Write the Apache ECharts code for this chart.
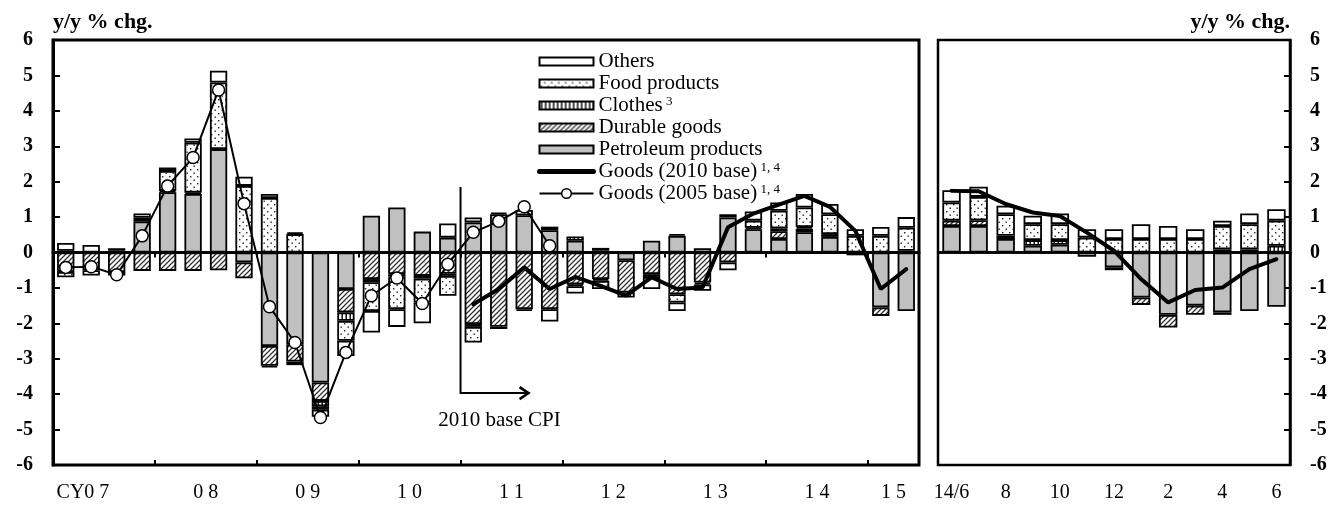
<!DOCTYPE html>
<html><head><meta charset="utf-8">
<script src="https://cdn.jsdelivr.net/npm/echarts@6/dist/echarts.min.js"></script>
<style>html,body{margin:0;padding:0;background:#fff}#c{width:1339px;height:508px}</style>
</head><body><div id="c"></div>
<script>
// ---------- data ----------
const quarters = ['07Q1','07Q2','07Q3','07Q4','08Q1','08Q2','08Q3','08Q4','09Q1','09Q2','09Q3','09Q4',
  '10Q1','10Q2','10Q3','10Q4','11Q1','11Q2','11Q3','11Q4','12Q1','12Q2','12Q3','12Q4',
  '13Q1','13Q2','13Q3','13Q4','14Q1','14Q2','14Q3','14Q4','15Q1','15Q2'];
const yearLabels = ['CY0 7','0 8','0 9','1 0','1 1','1 2','1 3','1 4','1 5'];
const quartersPerYear = [4,4,4,4,4,4,4,4,2];
const months = ['14/6','7','8','9','10','11','12','15/1','2','3','4','5','6'];

const qPetroleum = ['-','-','-',0.88,1.70,1.65,2.92,-0.28,-2.64,-2.59,-3.67,-1.03,1.04,1.27,0.59,0.42,
  0.85,1.08,1.05,0.63,0.33,0.05,-0.22,0.33,0.47,0.12,0.99,0.66,0.38,0.57,0.44,-0.08,-1.55,-1.65];
const qDurable = [-0.55,-0.50,-0.55,-0.52,-0.52,-0.52,-0.50,-0.45,-0.56,-0.49,-0.52,-0.66,-0.75,-0.61,-0.66,-0.60,
  -2.02,-2.10,-1.60,-1.60,-0.90,-0.75,-0.91,-0.61,-1.18,-0.85,-0.28,'-',0.22,0.10,'-','-',-0.24,'-'];
const qClothes = [0.05,'-',0.05,'-',0.04,0.04,'-','-',-0.05,-0.10,-0.15,-0.24,-0.09,-0.07,-0.08,-0.06,
  -0.08,-0.06,-0.05,0.10,0.12,-0.05,-0.14,-0.08,0.05,-0.05,0.09,0.04,0.08,0.05,0.08,'-','-',0.05];
const qFood = [-0.15,-0.15,-0.10,0.10,0.56,1.41,1.88,1.88,1.54,0.52,-0.10,-0.56,-0.81,-0.92,-0.67,-0.56,
  -0.44,'-','-','-',-0.05,-0.23,'-','-',-0.23,'-','-',0.20,0.50,0.55,0.56,0.47,0.47,0.65];
const qOthers = [0.22,0.21,0.07,0.12,0.10,0.12,0.33,0.26,0.11,0.05,-0.20,-0.43,-0.61,-0.50,-0.59,0.40,
  0.14,0.05,0.15,-0.35,-0.21,0.08,'-',-0.34,-0.24,-0.18,-0.22,0.26,0.23,0.38,0.29,0.19,0.25,0.30];
const qGoods2010 = ['-','-','-','-','-','-','-','-','-','-','-','-','-','-','-','-',
  -1.46,-1.03,-0.42,-1.03,-0.69,-0.94,-1.22,-0.70,-1.03,-0.99,0.71,1.10,1.35,1.60,1.29,0.61,-1.03,-0.47];
const qGoods2005 = [-0.42,-0.40,-0.63,0.47,1.88,2.68,4.59,1.38,-1.53,-2.54,-4.66,-2.82,-1.22,-0.72,-1.44,-0.33,
  0.57,0.88,1.29,0.19,'-','-','-','-','-','-','-','-','-','-','-','-','-','-'];

const mPetroleum = [0.75,0.75,0.38,0.19,0.22,-0.12,-0.42,-1.27,-1.76,-1.50,-1.69,-1.65,-1.53];
const mDurable = [0.15,0.16,'-','-','-','-','-',-0.21,-0.36,-0.26,0.09,0.09,'-'];
const mClothes = ['-','-',0.09,0.16,0.13,'-',-0.08,'-','-','-',-0.07,'-',0.19];
const mFood = [0.51,0.66,0.61,0.45,0.45,0.42,0.38,0.38,0.38,0.38,0.66,0.71,0.71];
const mOthers = [0.35,0.29,0.24,0.24,0.30,0.24,0.28,0.42,0.37,0.28,0.15,0.30,0.32];
const mGoods2010 = [1.74,1.73,1.37,1.13,1.03,0.56,0.05,-0.75,-1.41,-1.06,-0.99,-0.47,-0.19];

const baseChangeAfter = 15; // 2010 base CPI starts after 10Q4

// ---------- helpers ----------
const FONT = 'Liberation Serif';
function pattern(kind){
  const c = document.createElement('canvas');
  const s = kind === 'dots' ? 7 : (kind === 'hatch' ? 5 : 4);
  c.width = s; c.height = s;
  const g = c.getContext('2d');
  g.fillStyle = '#fff'; g.fillRect(0,0,s,s);
  g.fillStyle = '#222'; g.strokeStyle = '#333';
  if (kind === 'dots'){
    g.fillRect(1,1,1.4,1.4); g.fillRect(4.5,4.5,1.4,1.4);
  } else if (kind === 'hatch'){
    g.lineWidth = 1.3;
    g.beginPath(); g.moveTo(-1,s+1); g.lineTo(s+1,-1);
    g.moveTo(-1,1); g.lineTo(1,-1); g.moveTo(s-1,s+1); g.lineTo(s+1,s-1); g.stroke();
  } else if (kind === 'vstripe'){
    g.fillStyle = '#000'; g.fillRect(1.5,0,1.4,s);
  }
  return {image: c, repeat: 'repeat'};
}
const colPetro = '#c0c0c0';
const colDur = pattern('hatch');
const colClo = pattern('vstripe');
const colFood = pattern('dots');
const colOth = '#ffffff';

const border = {borderColor:'#000', borderWidth:1.8};
function barSeries(name, data, color, xi, yi, stack, extra){
  return Object.assign({
    type:'bar', name, data, stack, xAxisIndex:xi, yAxisIndex:yi,
    barWidth:'68%', itemStyle:Object.assign({color}, border), emphasis:{disabled:true}, silent:true
  }, extra||{});
}
const zeroLine = {silent:true, symbol:'none', label:{show:false},
  lineStyle:{color:'#000', width:2.5, type:'solid'}, data:[{yAxis:0}]};

// year label positions (centre of each year's quarters)
const yearPos = []; const yearTicks = [];
let acc = 0;
quartersPerYear.forEach(n => { yearTicks.push(acc); yearPos.push(acc + n/2); acc += n; });

const supMap = {'Clothes':' 3','Goods (2010 base)':' 1, 4','Goods (2005 base)':' 1, 4'};
// legend box icon: a thin bar centred in a taller item box
const boxIcon = 'path://M0,0M0,2L54,2L54,10L0,10ZM54,12';

const chart = echarts.init(document.getElementById('c'), null, {renderer:'canvas'});
const option = {
  animation:false,
  backgroundColor:'#fff',
  textStyle:{fontFamily:FONT, color:'#000'},
  title:[
    {text:'y/y % chg.', left:53, top:11, padding:0, textStyle:{fontFamily:FONT, fontSize:22, fontWeight:'bold', color:'#000'}},
    {text:'y/y % chg.', right:49, top:11, padding:0, textStyle:{fontFamily:FONT, fontSize:22, fontWeight:'bold', color:'#000'}}
  ],
  legend:{
    orient:'vertical', left:537, top:51, itemWidth:54, itemHeight:12, itemGap:1, padding:0,
    selectedMode:false,
    data:[
      {name:'Others', icon:boxIcon},
      {name:'Food products', icon:boxIcon},
      {name:'Clothes', icon:boxIcon},
      {name:'Durable goods', icon:boxIcon},
      {name:'Petroleum products', icon:boxIcon},
      {name:'Goods (2010 base)', lineStyle:{width:5, color:'#000', cap:'round'}, itemStyle:{opacity:0}},
      {name:'Goods (2005 base)', lineStyle:{width:2, color:'#000'}, itemStyle:{color:'#fff', borderColor:'#000', borderWidth:1.5}}
    ],
    formatter: n => supMap[n] ? '{t|'+n+'}{s|'+supMap[n]+'}' : '{t|'+n+'}',
    textStyle:{fontFamily:FONT, fontSize:21, color:'#000', lineHeight:21,
      rich:{t:{fontFamily:FONT, fontSize:21, lineHeight:21, color:'#000'},
            s:{fontFamily:FONT, fontSize:13, lineHeight:13, verticalAlign:'top', color:'#000'}}}
  },
  grid:[
    {left:53, top:40, width:866, height:425, show:true, borderColor:'#000', borderWidth:3, backgroundColor:'transparent'},
    {left:938, top:40, width:352, height:425, show:true, borderColor:'#000', borderWidth:2.5, backgroundColor:'transparent'}
  ],
  xAxis:[
    {type:'category', gridIndex:0, data:quarters, boundaryGap:true,
     axisLine:{show:true, lineStyle:{color:'#000', width:3}},
     axisTick:{show:true, inside:false, length:5, lineStyle:{color:'#000', width:2}, interval:(i)=> i % 4 === 0},
     axisLabel:{show:false}, splitLine:{show:false}},
    {type:'value', gridIndex:0, min:0, max:quarters.length, position:'bottom',
     axisLine:{show:false}, splitLine:{show:false},
     axisTick:{show:true, inside:true, length:5, lineStyle:{color:'#000', width:2}, customValues:yearTicks},
     axisLabel:{show:true, customValues:yearPos, margin:18, fontFamily:FONT, fontSize:20, color:'#000',
       formatter:(v)=>{ const i = yearPos.indexOf(v); if (i < 0) return ''; return i === 0 ? '{cy|'+yearLabels[i]+'}' : yearLabels[i]; },
       rich:{cy:{fontFamily:FONT, fontSize:20, color:'#000', padding:[0,42,0,0]}}}},
    {type:'category', gridIndex:1, data:months, boundaryGap:true,
     axisLine:{show:true, lineStyle:{color:'#000', width:2.5}},
     axisTick:{show:false},
     axisLabel:{show:true, interval:1, margin:18, fontFamily:FONT, fontSize:20, color:'#000'}, splitLine:{show:false}}
  ],
  yAxis:[
    {type:'value', gridIndex:0, min:-6, max:6, interval:1, position:'left',
     axisLine:{show:true, lineStyle:{color:'#000', width:3}},
     axisTick:{show:true, inside:true, length:7, lineStyle:{color:'#000', width:2}},
     axisLabel:{margin:20, fontFamily:FONT, fontSize:20, fontWeight:'bold', color:'#000'}, splitLine:{show:false}},
    {type:'value', gridIndex:1, min:-6, max:6, interval:1, position:'right',
     axisLine:{show:true, lineStyle:{color:'#000', width:2.5}},
     axisTick:{show:true, inside:true, length:6, lineStyle:{color:'#000', width:2}},
     axisLabel:{margin:20, fontFamily:FONT, fontSize:20, fontWeight:'bold', color:'#000'}, splitLine:{show:false}}
  ],
  series:[
    barSeries('Petroleum products', qPetroleum, colPetro, 0, 0, 'L', {markLine:zeroLine}),
    barSeries('Durable goods', qDurable, colDur, 0, 0, 'L'),
    barSeries('Clothes', qClothes, colClo, 0, 0, 'L'),
    barSeries('Food products', qFood, colFood, 0, 0, 'L'),
    barSeries('Others', qOthers, colOth, 0, 0, 'L'),
    {type:'line', name:'Goods (2010 base)', data:qGoods2010, xAxisIndex:0, yAxisIndex:0, symbol:'none',
     lineStyle:{color:'#000', width:4, cap:'round'}, itemStyle:{color:'#000'}, silent:true, z:5},
    {type:'line', name:'Goods (2005 base)', data:qGoods2005, xAxisIndex:0, yAxisIndex:0, symbol:'circle', symbolSize:12,
     lineStyle:{color:'#000', width:2}, itemStyle:{color:'#fff', borderColor:'#000', borderWidth:1.5}, silent:true, z:5},
    barSeries('Petroleum products', mPetroleum, colPetro, 2, 1, 'R', {markLine:zeroLine}),
    barSeries('Durable goods', mDurable, colDur, 2, 1, 'R'),
    barSeries('Clothes', mClothes, colClo, 2, 1, 'R'),
    barSeries('Food products', mFood, colFood, 2, 1, 'R'),
    barSeries('Others', mOthers, colOth, 2, 1, 'R'),
    {type:'line', name:'Goods (2010 base)', data:mGoods2010, xAxisIndex:2, yAxisIndex:1, symbol:'none',
     lineStyle:{color:'#000', width:4, cap:'round'}, itemStyle:{color:'#000'}, silent:true, z:5}
  ]
};
chart.setOption(option);

// "2010 base CPI" annotation, positioned from the axes
const pA = chart.convertToPixel({gridIndex:0}, [baseChangeAfter, 1.85]);
const pB = chart.convertToPixel({gridIndex:0}, [baseChangeAfter + 1, -3.97]);
const bx = (pA[0] + pB[0]) / 2;
const topY = pA[1], botY = pB[1];
chart.setOption({graphic:[
  {type:'polyline', shape:{points:[[bx, topY],[bx, botY],[bx+68, botY]]}, style:{stroke:'#000', lineWidth:2, fill:null}, silent:true, z:10},
  {type:'polyline', shape:{points:[[bx+59, botY-6],[bx+68, botY],[bx+59, botY+6]]}, style:{stroke:'#000', lineWidth:2.5, fill:null}, silent:true, z:10},
  {type:'text', x:bx+39, y:botY+27, style:{text:'2010 base CPI', font:'21px "Liberation Serif"', fill:'#000', textAlign:'center', textVerticalAlign:'middle'}, silent:true, z:10}
]});
</script></body></html>
